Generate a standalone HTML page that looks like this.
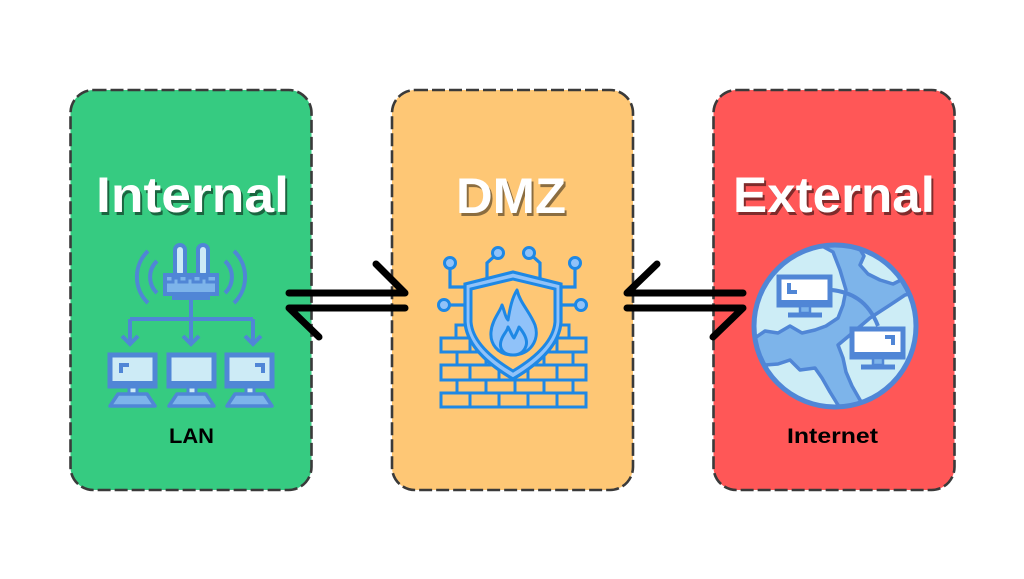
<!DOCTYPE html>
<html><head><meta charset="utf-8"><style>
html,body{margin:0;padding:0;background:#fff;}
svg{display:block;}
.t{font-family:"Liberation Sans",sans-serif;font-weight:bold;}
</style></head><body>
<svg width="1024" height="579" viewBox="0 0 1024 579" xmlns="http://www.w3.org/2000/svg">
<defs>
<clipPath id="gc"><circle cx="835" cy="326" r="81"/></clipPath>
</defs>
<rect width="1024" height="579" fill="#fff"/>
<!-- boxes -->
<rect x="70.5" y="90" width="241" height="400" rx="23" fill="#36CB81" stroke="#3a3a3a" stroke-width="2.6" stroke-dasharray="13 4"/>
<rect x="392" y="90" width="241" height="400" rx="23" fill="#FEC775" stroke="#3a3a3a" stroke-width="2.6" stroke-dasharray="13 4"/>
<rect x="713.5" y="90" width="241" height="400" rx="23" fill="#FF5757" stroke="#3a3a3a" stroke-width="2.6" stroke-dasharray="13 4"/>

<!-- titles -->
<g class="t" font-size="50" text-anchor="middle">
<text x="194.5" y="215" fill="rgba(0,0,0,0.5)" textLength="193" lengthAdjust="spacingAndGlyphs">Internal</text>
<text x="192.5" y="212" fill="#fff" textLength="193" lengthAdjust="spacingAndGlyphs">Internal</text>
<text x="513" y="216" fill="rgba(0,0,0,0.45)" textLength="110" lengthAdjust="spacingAndGlyphs">DMZ</text>
<text x="511" y="213" fill="#fff" textLength="110" lengthAdjust="spacingAndGlyphs">DMZ</text>
<text x="836" y="215" fill="rgba(0,0,0,0.5)" textLength="202" lengthAdjust="spacingAndGlyphs">External</text>
<text x="834" y="212" fill="#fff" textLength="202" lengthAdjust="spacingAndGlyphs">External</text>
</g>
<g class="t" font-size="21" text-anchor="middle" fill="#000">
<text x="191.5" y="443" textLength="45" lengthAdjust="spacingAndGlyphs">LAN</text>
<text x="832.5" y="443" textLength="91" lengthAdjust="spacingAndGlyphs">Internet</text>
</g>

<!-- arrows -->
<g stroke="#000" stroke-width="7" stroke-linecap="round" stroke-linejoin="round" fill="none">
<path d="M289,293 L405,293 L376,264"/>
<path d="M405,308 L289,308 L319,337"/>
<path d="M743,293 L627,293 L657,264"/>
<path d="M627,308 L743,308 L713,337"/>
</g>

<!-- LAN icon -->
<g stroke="#5086D6" stroke-width="4" fill="none" stroke-linecap="butt">
<path d="M157,261 A22,22 0 0 0 157,293"/>
<path d="M148,251 A36,36 0 0 0 148,303"/>
<path d="M225,261 A22,22 0 0 1 225,293"/>
<path d="M234,251 A36,36 0 0 1 234,303"/>
<path d="M191,300 L191,319 M130,319 L253,319 M130,319 L130,344 M191,319 L191,344 M253,319 L253,344"/>
<path d="M122,336 L130,344 L138,336 M183,336 L191,344 L199,336 M245,336 L253,344 L261,336" stroke-linejoin="miter"/>
</g>
<rect x="175" y="245" width="10" height="32" rx="5" fill="#CDEBF6" stroke="#5086D6" stroke-width="4"/>
<rect x="198" y="245" width="10" height="32" rx="5" fill="#CDEBF6" stroke="#5086D6" stroke-width="4"/>
<rect x="165" y="275" width="52" height="19" fill="#7DB4EA" stroke="#5086D6" stroke-width="4"/>
<path d="M167,282 h6 v-4 h6 v4 h8 v-4 h6 v4 h8 v-4 h6 v4 h8" fill="none" stroke="#5086D6" stroke-width="3"/>
<rect x="172" y="293" width="38" height="7" fill="#5086D6"/>

<g id="mon">
<rect x="110" y="355" width="45" height="31" fill="#CDEBF6" stroke="#5086D6" stroke-width="5"/>
<rect x="110" y="381" width="45" height="6" fill="#5086D6"/>
<rect x="129" y="387" width="8" height="7" fill="#CDEBF6" stroke="#5086D6" stroke-width="3"/>
<polygon points="118,394 147,394 155,406 110,406" fill="#7DB4EA" stroke="#5086D6" stroke-width="3.5" stroke-linejoin="round"/>
</g>
<use href="#mon" x="59"/>
<use href="#mon" x="117"/>
<path d="M119,363 h10 v4 h-6 v6 h-4 z" fill="#5086D6"/>
<path d="M265,363 h-10 v4 h6 v6 h4 z" fill="#5086D6"/>

<!-- Firewall icon -->
<g fill="none" stroke="#1E88E5" stroke-width="3.2">
<path d="M450,263 V287 H468 M498,253 L487,263 V278 M529,253 L540,263 V278 M575,263 V287 H557 M444,305 H468 M581,305 H557"/>
</g>
<g fill="#90C2F9" stroke="#1E88E5" stroke-width="3">
<circle cx="450" cy="263" r="5.5"/>
<circle cx="498" cy="253" r="5.5"/>
<circle cx="529" cy="253" r="5.5"/>
<circle cx="575" cy="263" r="5.5"/>
<circle cx="444" cy="305" r="5.5"/>
<circle cx="581" cy="305" r="5.5"/>
</g>
<g fill="none" stroke="#1E88E5" stroke-width="3">
<!-- row1 -->
<rect x="456" y="325" width="28" height="13"/>
<rect x="541" y="325" width="28" height="13"/>
<!-- row2 full -->
<rect x="441" y="338" width="29" height="14"/><rect x="470" y="338" width="29" height="14"/><rect x="499" y="338" width="29" height="14"/><rect x="528" y="338" width="29" height="14"/><rect x="557" y="338" width="29" height="14"/>
<!-- row3 offset -->
<rect x="457" y="352" width="29" height="13"/><rect x="486" y="352" width="29" height="13"/><rect x="515" y="352" width="29" height="13"/><rect x="544" y="352" width="29" height="13"/>
<!-- row4 -->
<rect x="441" y="365" width="29" height="15"/><rect x="470" y="365" width="29" height="15"/><rect x="499" y="365" width="29" height="15"/><rect x="528" y="365" width="29" height="15"/><rect x="557" y="365" width="29" height="15"/>
<!-- row5 -->
<rect x="457" y="380" width="29" height="13"/><rect x="486" y="380" width="29" height="13"/><rect x="515" y="380" width="29" height="13"/><rect x="544" y="380" width="29" height="13"/>
<!-- row6 -->
<rect x="441" y="393" width="29" height="14"/><rect x="470" y="393" width="29" height="14"/><rect x="499" y="393" width="29" height="14"/><rect x="528" y="393" width="29" height="14"/><rect x="557" y="393" width="29" height="14"/>
</g>
<path d="M465,284 L513,272 L561,284 L561,322 Q559,352 513,379 Q467,352 465,322 Z" fill="#90C2F9" stroke="#1E88E5" stroke-width="3.2"/>
<path d="M471,289 L513,279 L555,289 L555,322 Q553,347 513,371 Q473,347 471,322 Z" fill="#FEC775" stroke="#1E88E5" stroke-width="3"/>
<path d="M513,355 C497,355 490,343 491,332 C492,320 500,312 502,305 C505,312 505,317 508,320 C510,308 512,298 517,290 C520,303 530,312 535,325 C540,340 530,355 513,355 Z" fill="#90C2F9" stroke="#1E88E5" stroke-width="3" stroke-linejoin="round"/>
<path d="M513,355 C503,355 499,348 501,341 C503,334 507,332 508,327 C511,332 512,336 514,338 C516,334 518,330 519,327 C524,333 528,340 526,346 C524,352 519,355 513,355 Z" fill="#90C2F9" stroke="#1E88E5" stroke-width="3" stroke-linejoin="round"/>

<!-- Globe -->
<circle cx="835" cy="326" r="81" fill="#CDEDF6"/>
<g clip-path="url(#gc)">
<path d="M815,238 L822,246 L833,252 L840,270 L846,290 L843,305 L838,318 L826,326 L815,330 L802,333 L790,326 L778,333 L765,331 L752,340 L740,345 L740,362 L752,360 L765,365 L778,364 L790,360 L800,370 L815,368 L822,378 L830,392 L838,405 L846,415 L870,415 L860,400 L852,386 L846,372 L843,358 L838,345 L850,335 L870,318 L890,305 L905,295 L925,290 L925,268 L905,278 L893,284 L880,280 L868,274 L860,265 L864,256 L858,246 L856,236 Z" fill="#7DB4EA" stroke="#5086D6" stroke-width="3.5" stroke-linejoin="round"/>
</g>
<circle cx="835" cy="326" r="81" fill="none" stroke="#5086D6" stroke-width="5"/>
<path d="M832,290 C850,292 868,300 878,326" fill="none" stroke="#5086D6" stroke-width="4"/>
<rect x="779" y="277" width="51" height="28" fill="#fff" stroke="#5086D6" stroke-width="5"/>
<rect x="779" y="300" width="51" height="6" fill="#5086D6"/>
<path d="M787,283 h4 v7 h6 v4 h-10 z" fill="#5086D6"/>
<rect x="800" y="306" width="10" height="7" fill="#7DB4EA" stroke="#5086D6" stroke-width="2.5"/>
<path d="M788,315 H822" stroke="#5086D6" stroke-width="5"/>
<rect x="852" y="329" width="51" height="28" fill="#fff" stroke="#5086D6" stroke-width="5"/>
<rect x="852" y="352" width="51" height="6" fill="#5086D6"/>
<path d="M895,335 v10 h-4 v-6 h-6 v-4 z" fill="#5086D6"/>
<rect x="873" y="358" width="10" height="7" fill="#7DB4EA" stroke="#5086D6" stroke-width="2.5"/>
<path d="M861,367 H895" stroke="#5086D6" stroke-width="5"/>
</svg>
</body></html>
